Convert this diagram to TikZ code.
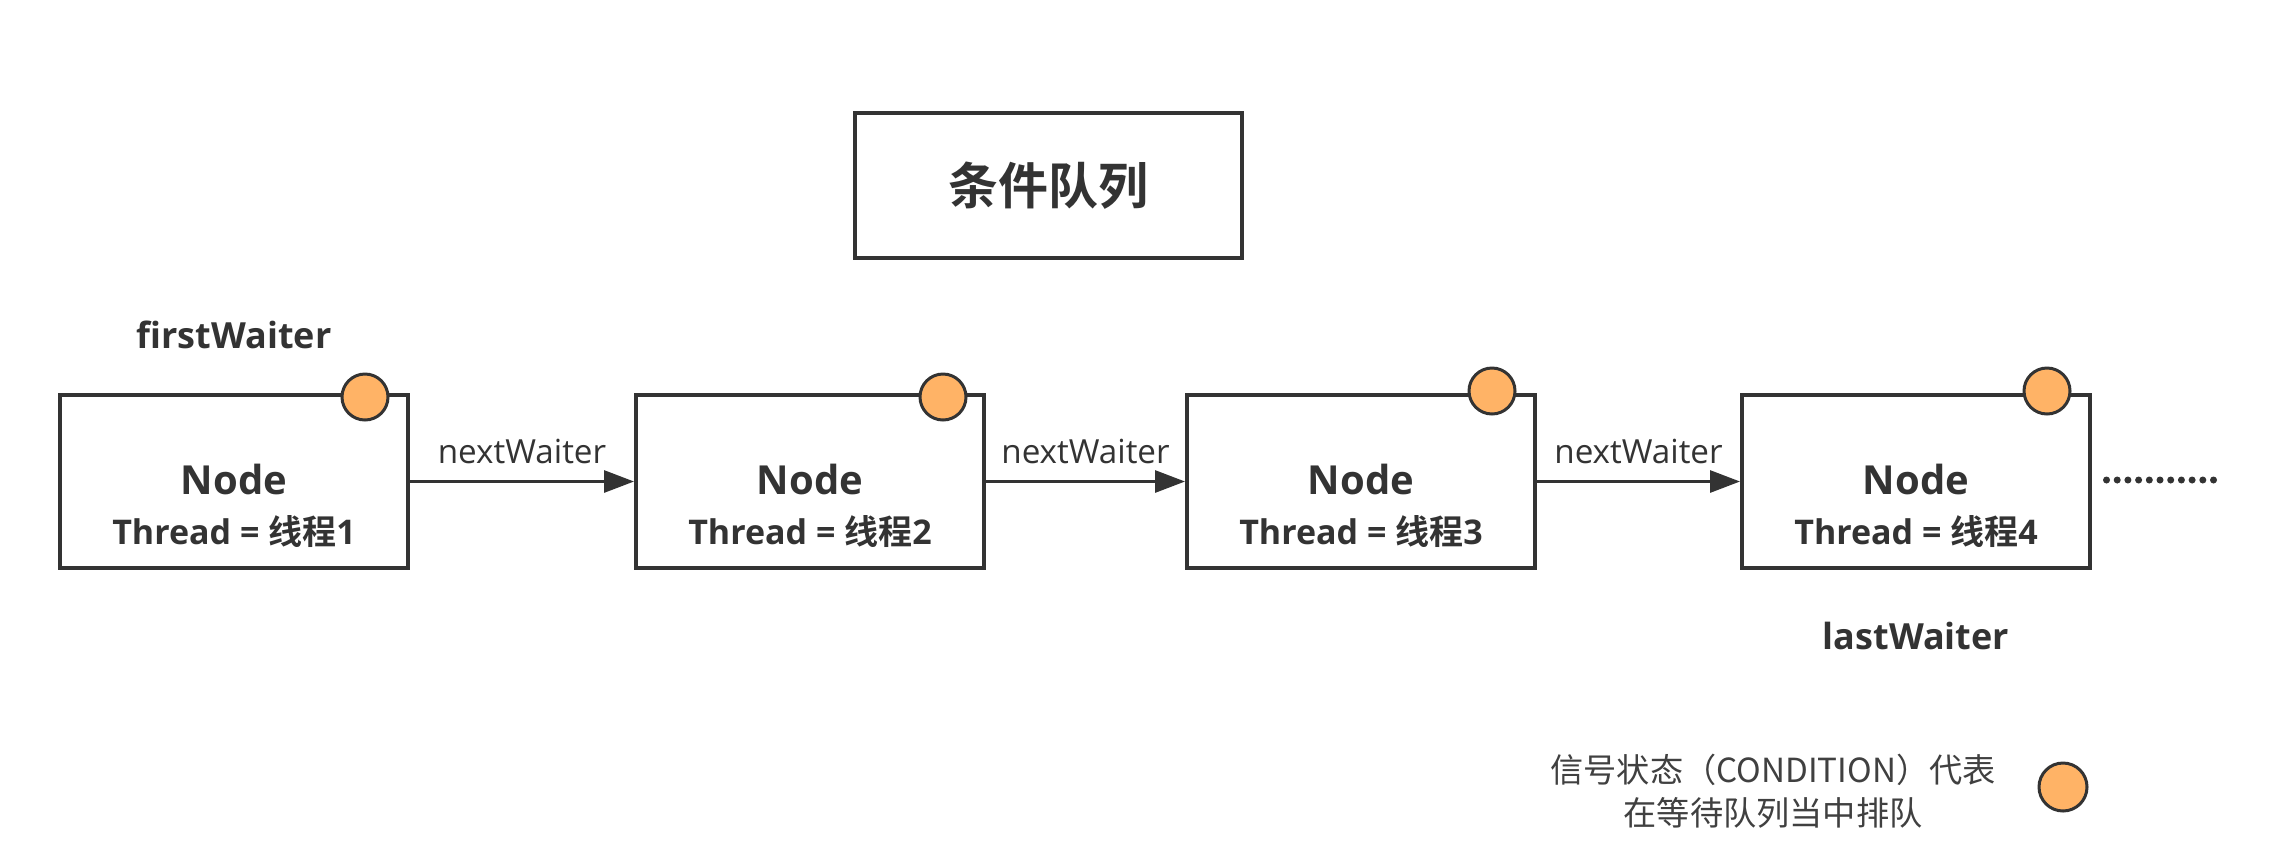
\documentclass[tikz,border=0pt]{standalone}
\usepackage{fontspec}
\setmainfont{Open Sans}
\newfontfamily\cjk{Noto Sans CJK SC}[BoldFont={Noto Sans CJK SC Bold}]
\usetikzlibrary{arrows.meta}
\definecolor{ink}{HTML}{333333}
\definecolor{sig}{HTML}{FFB366}
\begin{document}
\begin{tikzpicture}[x=0.5pt,y=-0.5pt,
  qbox/.style={draw=ink, line width=2pt, minimum width=174pt, minimum height=86.5pt, inner sep=0pt, fill=white},
  titlebox/.style={draw=ink, line width=2pt, minimum width=193.5pt, minimum height=72.5pt, inner sep=0pt, text=ink, font=\cjk\bfseries\fontsize{25}{30}\selectfont},
  sigdot/.style={circle, draw=ink, line width=1.5pt, fill=sig, minimum size=23pt, inner sep=0pt},
  nodename/.style={font=\bfseries\fontsize{20}{24}\selectfont, text=ink, inner sep=0pt},
  threadname/.style={font=\bfseries\fontsize{17}{20}\selectfont, text=ink, inner sep=0pt},
  ptr/.style={font=\bfseries\fontsize{18}{22}\selectfont, text=ink, inner sep=0pt},
  link/.style={draw=ink, line width=1.5pt, -{Triangle[length=15pt,width=11pt]}},
  linklabel/.style={font=\fontsize{16.6}{20}\selectfont, text=ink, inner sep=0pt},
  legendtext/.style={font=\cjk\fontsize{16.6}{21.5}\selectfont, text=black!75, align=center, inner sep=0pt},
  dotline/.style={draw=ink, line width=3.5pt, line cap=round, dash pattern=on 0pt off 5.35pt},
]
\useasboundingbox[fill=white] (0,0) rectangle (2292,842);

% title
\node[titlebox] (title) at (1048.5,185.5) {条件队列};

% queue nodes
\node[qbox] (n1) at (234,481.5) {};
\node[qbox] (n2) at (810,481.5) {};
\node[qbox] (n3) at (1361,481.5) {};
\node[qbox] (n4) at (1916,481.5) {};

% signal dots
\node[sigdot] (c1) at (365,397) {};
\node[sigdot] (c2) at (943,397) {};
\node[sigdot] (c3) at (1492,391) {};
\node[sigdot] (c4) at (2047,391) {};

% node texts
\node[nodename] (t1) at (234,479) {Node};
\node[nodename] (t2) at (810,479) {Node};
\node[nodename] (t3) at (1361,479) {Node};
\node[nodename] (t4) at (1916,479) {Node};
\node[threadname] (h1) at (234,532) {Thread = {\cjk\bfseries 线程}1};
\node[threadname] (h2) at (810,532) {Thread = {\cjk\bfseries 线程}2};
\node[threadname] (h3) at (1361,532) {Thread = {\cjk\bfseries 线程}3};
\node[threadname] (h4) at (1916,532) {Thread = {\cjk\bfseries 线程}4};

% pointers
\node[ptr] (first) at (234,335) {firstWaiter};
\node[ptr] (last) at (1916,636) {lastWaiter};

% links
\draw[link] (n1.east) -- node[linklabel, yshift=15pt] (l1) {nextWaiter} (n2.west);
\draw[link] (n2.east) -- node[linklabel, yshift=15pt] (l2) {nextWaiter} (n3.west);
\draw[link] (n3.east) -- node[linklabel, yshift=15pt] (l3) {nextWaiter} (n4.west);

% continuation dots
\coordinate (d0) at (2106.5,480);
\coordinate (d1) at (2214,480);
\draw[dotline] (d0) -- (d1);

% legend
\node[legendtext] (lg) at (1773,791.5) {信号状态（CONDITION）代表\\在等待队列当中排队};
\node[sigdot, minimum size=24pt] (lc) at (2063,787) {};
\end{tikzpicture}
\end{document}
